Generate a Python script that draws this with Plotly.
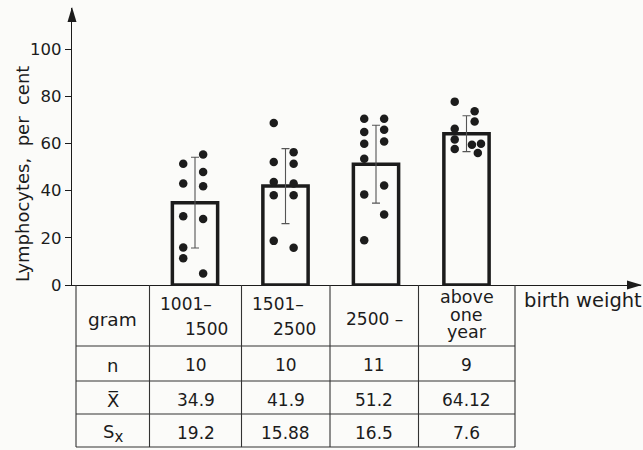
import plotly.graph_objects as go

# ---- data -------------------------------------------------------------
groups = [1, 2, 3, 4]
group_headers = [["1001–", "1500"], ["1501–", "2500"], ["2500 –"], ["above", "one", "year"]]
n_values = [10, 10, 11, 9]
means = [34.9, 41.9, 51.2, 64.12]
sx = [19.2, 15.88, 16.5, 7.6]

# individual lymphocyte percentages per group
dots_g1 = [51.4, 43.0, 29.1, 15.9, 11.3, 55.3, 47.9, 41.8, 28.0, 4.9]
dots_g2 = [68.6, 52.1, 43.6, 38.0, 18.7, 56.3, 51.4, 43.0, 38.0, 15.8]
dots_g3 = [70.4, 64.8, 59.9, 53.5, 38.4, 19.0, 70.4, 65.8, 60.8, 42.2, 29.9]
dots_g4 = [77.7, 66.2, 61.7, 57.6, 73.6, 69.3, 59.4, 59.9, 55.9]

y_ticks = [0, 20, 40, 60, 80, 100]
y_title = "Lymphocytes,\u00a0 per\u00a0 cent"
x_title = "birth weight"
row_labels = ["gram", "n", "X\u0305", "S<sub><span style=\"font-size:15px\">x</span></sub>"]

# ---- layout helpers ---------------------------------------------------
W, H = 643, 450
FONT = "DejaVu Sans"
INK = "#1c1c1c"
BG = "#fbfbf9"

# horizontal jitter of the dots inside each bar (category units)
L, R = -0.13, 0.09
jitter = [
    [L, L, L, L, L, R, R, R, R, R],
    [L, L, L, L, L, R, R, R, R, R],
    [L, L, L, L, L, L, R, R, R, R, R],
    [L, L, L, L, R, R, 0.06, 0.16, 0.125],
]


def px(x):
    return x / W


def py(y):
    return 1 - y / H


axis_left, axis_right = 72, 641      # pixel extent of the x axis
axis_bottom, axis_top = 285, 8       # pixel extent of the y axis
unit = 90.5                          # pixels per category
first_center = 195
x_range = [1 - (first_center - axis_left) / unit, 1 + (axis_right - first_center) / unit]
y_scale = 2.36
y_range = [0, (axis_bottom - axis_top) / y_scale]

fig = go.Figure()

fig.add_trace(go.Bar(
    x=groups, y=means, width=0.5,
    marker=dict(color=BG, line=dict(color=INK, width=3.5)),
    error_y=dict(type="data", array=sx, visible=True, color="#555", thickness=1.1, width=4),
    showlegend=False, hoverinfo="skip",
))

for g, vals, off in zip(groups, [dots_g1, dots_g2, dots_g3, dots_g4], jitter):
    fig.add_trace(go.Scatter(
        x=[g + o for o in off], y=vals, mode="markers",
        marker=dict(size=8.5, color=INK),
        cliponaxis=False, showlegend=False, hoverinfo="skip",
    ))

shapes = []
annotations = []

# arrowheads on both axes
shapes.append(dict(type="path", xref="paper", yref="paper",
                   path=f"M {px(axis_left-4.5)} {py(22)} L {px(axis_left)} {py(axis_top-1)} L {px(axis_left+4.5)} {py(22)} Z",
                   fillcolor=INK, line=dict(width=0)))
shapes.append(dict(type="path", xref="paper", yref="paper",
                   path=f"M {px(627)} {py(axis_bottom-4.5)} L {px(642)} {py(axis_bottom)} L {px(627)} {py(axis_bottom+4.5)} Z",
                   fillcolor=INK, line=dict(width=0)))

# table grid under the x axis
col_edges = [76, 149.5, 241.5, 330, 418.5, 515]
row_edges = [axis_bottom, 346, 381, 414, 447]
for xe in col_edges:
    shapes.append(dict(type="line", xref="paper", yref="paper",
                       x0=px(xe), x1=px(xe), y0=py(row_edges[0]), y1=py(row_edges[-1]),
                       line=dict(color="#333", width=1.1)))
for ye in row_edges[1:]:
    shapes.append(dict(type="line", xref="paper", yref="paper",
                       x0=px(col_edges[0]), x1=px(col_edges[-1]), y0=py(ye), y1=py(ye),
                       line=dict(color="#333", width=1.1)))


def text(x, y, s, size=17, xanchor="center", **kw):
    annotations.append(dict(x=px(x), y=py(y), xref="paper", yref="paper", text=s,
                            showarrow=False, xanchor=xanchor, yanchor="middle",
                            font=dict(family=FONT, size=size, color=INK), **kw))


# header row
text((col_edges[0] + col_edges[1]) / 2, 319, row_labels[0], size=18.5)
for i, lines in enumerate(group_headers):
    left, right = col_edges[i + 1], col_edges[i + 2]
    centre = (left + right) / 2
    if len(lines) == 2:
        text(left + 8, 304, lines[0], xanchor="left")
        text(right - 12, 329, lines[1], xanchor="right")
    elif len(lines) == 1:
        text(centre, 319, lines[0])
    else:
        for k, line in enumerate(lines):
            text(centre, 297 + 17.5 * k, line, size=17.5)
text(522, 300, x_title, size=19.5, xanchor="left")

# statistics rows
row_centres = [365, 400, 433]
for r, (label, values) in enumerate(zip(row_labels[1:], [n_values, means, sx])):
    text((col_edges[0] + col_edges[1]) / 2, row_centres[r], label, size=18)
    for i, v in enumerate(values):
        text((col_edges[i + 1] + col_edges[i + 2]) / 2, row_centres[r], str(v))

# y axis title
text(22, 174, y_title, size=18, textangle=-90)

fig.update_layout(
    width=W, height=H,
    margin=dict(l=0, r=0, t=0, b=0, pad=0),
    paper_bgcolor=BG, plot_bgcolor=BG,
    shapes=shapes, annotations=annotations,
    xaxis=dict(domain=[px(axis_left), px(axis_right)], range=x_range, automargin=False,
               showline=True, linecolor=INK, linewidth=1.4,
               showgrid=False, zeroline=False, showticklabels=False, ticks=""),
    yaxis=dict(domain=[py(axis_bottom), py(axis_top)], range=y_range, automargin=False,
               showline=True, linecolor=INK, linewidth=1.4,
               showgrid=False, zeroline=False,
               tickvals=y_ticks, ticks="outside", ticklen=6, tickwidth=1.2, tickcolor=INK,
               tickfont=dict(family=FONT, size=16.5, color=INK)),
)

fig.write_html("out.html")
